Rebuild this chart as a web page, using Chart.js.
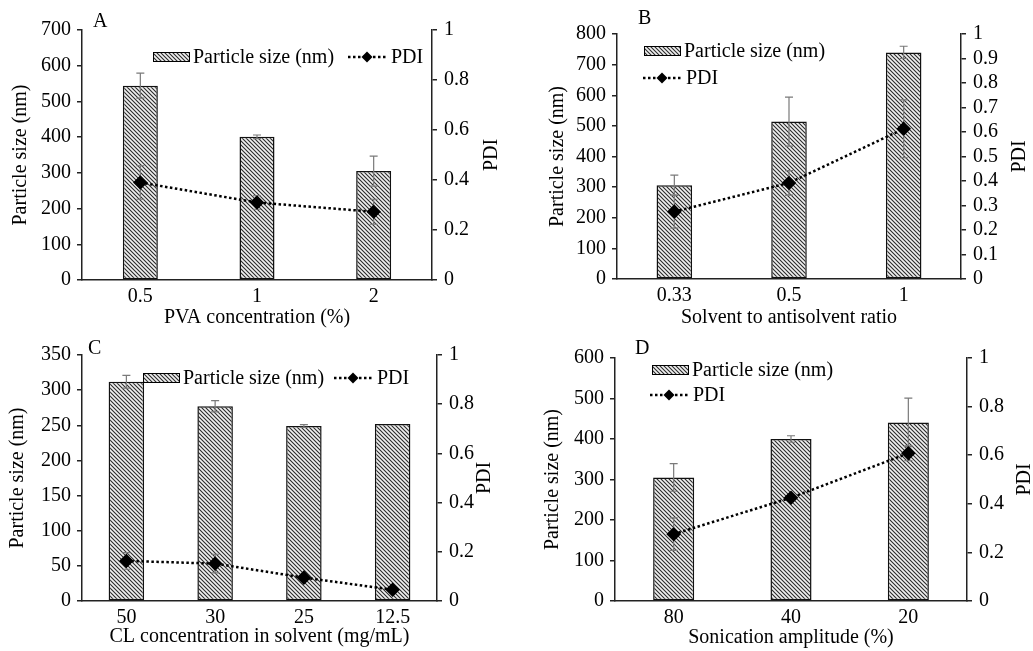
<!DOCTYPE html>
<html>
<head>
<meta charset="utf-8">
<script src="https://cdn.jsdelivr.net/npm/chart.js"></script>
<style>
  body { margin: 0; background: #fff; width: 1033px; height: 651px; position: relative; overflow: hidden; }
  .panel { position: absolute; }
  .letter { position: absolute; font: 20px "Liberation Serif", "Times New Roman", serif; line-height: 20px; color: #000; }
</style>
</head>
<body>
<div class="panel" style="left:0;top:0;width:516px;height:330px"><canvas id="chartA"></canvas></div>
<div class="panel" style="left:516px;top:0;width:517px;height:330px"><canvas id="chartB"></canvas></div>
<div class="panel" style="left:0;top:330px;width:516px;height:321px"><canvas id="chartC"></canvas></div>
<div class="panel" style="left:516px;top:330px;width:517px;height:321px"><canvas id="chartD"></canvas></div>
<div class="letter" style="left:93px;top:10px">A</div>
<div class="letter" style="left:638px;top:7px">B</div>
<div class="letter" style="left:88px;top:337px">C</div>
<div class="letter" style="left:635px;top:337px">D</div>
<script>
// panel A - PVA concentration
const catsA = ['0.5', '1', '2'];
const sizeA = [544, 401, 305];
const sizeErrA = [35, 5, 42];
const pdiA = [0.39, 0.31, 0.273];
const pdiErrA = [0.067, 0.027, 0.05];

// panel B - solvent to antisolvent ratio
const catsB = ['0.33', '0.5', '1'];
const sizeB = [306, 514, 740];
const sizeErrB = [33, 80, 20];
const pdiB = [0.275, 0.392, 0.613];
const pdiErrB = [0.067, 0.05, 0.118];

// panel C - CL concentration
const catsC = ['50', '30', '25', '12.5'];
const sizeC = [312, 277, 249, 252];
const sizeErrC = [9, 8, 2, 0];
const pdiC = [0.163, 0.152, 0.095, 0.046];
const pdiErrC = [0.034, 0.038, 0.01, 0];

// panel D - sonication amplitude
const catsD = ['80', '40', '20'];
const sizeD = [305, 400, 441];
const sizeErrD = [34, 8, 60];
const pdiD = [0.275, 0.425, 0.608];
const pdiErrD = [0.067, 0.01, 0.03];

const serif = '"Liberation Serif", "Times New Roman", serif';
Chart.defaults.font.family = serif;
Chart.defaults.font.size = 20;
Chart.defaults.color = '#000';

function hatch() {
  const c = document.createElement('canvas');
  c.width = 4; c.height = 4;
  const g = c.getContext('2d');
  g.fillStyle = '#f0f0f0';
  g.fillRect(0, 0, 4, 4);
  g.strokeStyle = '#2a2a2a';
  g.lineWidth = 1.1;
  g.beginPath();
  g.moveTo(0, 0); g.lineTo(4, 4);
  g.moveTo(-1, 3); g.lineTo(1, 5);
  g.moveTo(3, -1); g.lineTo(5, 1);
  g.stroke();
  return g.createPattern(c, 'repeat');
}

function drawErr(chart, i) {
  const ds = chart.data.datasets[i];
  if (!ds.errors) return;
  const meta = chart.getDatasetMeta(i);
  const scale = chart.scales[meta.yAxisID];
  const ctx = chart.ctx;
  ctx.save();
  ctx.strokeStyle = '#7a7a7a';
  ctx.lineWidth = 1.2;
  meta.data.forEach((el, j) => {
    const e = ds.errors[j];
    if (!e) return;
    const top = scale.getPixelForValue(ds.data[j] + e);
    const bot = scale.getPixelForValue(ds.data[j] - e);
    ctx.beginPath();
    ctx.moveTo(el.x, top); ctx.lineTo(el.x, bot);
    ctx.moveTo(el.x - 4, top); ctx.lineTo(el.x + 4, top);
    ctx.moveTo(el.x - 4, bot); ctx.lineTo(el.x + 4, bot);
    ctx.stroke();
  });
  ctx.restore();
}

const errorBars = {
  id: 'errorBars',
  beforeDatasetDraw(chart, args) { if (args.meta.type === 'line') drawErr(chart, args.index); },
  afterDatasetDraw(chart, args) { if (args.meta.type === 'bar') drawErr(chart, args.index); }
};

function diamond(ctx, x, y, r) {
  ctx.beginPath();
  ctx.moveTo(x, y - r); ctx.lineTo(x + r, y); ctx.lineTo(x, y + r); ctx.lineTo(x - r, y);
  ctx.closePath();
  ctx.fill();
}

// legend inside the plot and the right axis title (reads bottom to top)
const panelText = {
  id: 'panelText',
  afterDraw(chart, args, opts) {
    const ctx = chart.ctx;
    const [bar, line] = chart.data.datasets;
    const lg = opts.legend;
    ctx.save();
    ctx.font = '20px ' + serif;
    ctx.textBaseline = 'middle';

    ctx.fillStyle = bar.backgroundColor;
    ctx.fillRect(lg.barX, lg.barY - 5, 37, 10);
    ctx.strokeStyle = '#000';
    ctx.lineWidth = 1;
    ctx.strokeRect(lg.barX + 0.5, lg.barY - 4.5, 36, 9);
    ctx.fillStyle = '#000';
    ctx.fillText(bar.label, lg.barX + 40, lg.barY + 1);

    ctx.setLineDash([2.5, 2.5]);
    ctx.lineWidth = 2.5;
    ctx.beginPath();
    ctx.moveTo(lg.lineX, lg.lineY);
    ctx.lineTo(lg.lineX + 38, lg.lineY);
    ctx.stroke();
    ctx.setLineDash([]);
    diamond(ctx, lg.lineX + 19, lg.lineY, 5.5);
    ctx.fillText(line.label, lg.lineX + 43, lg.lineY + 1);

    const a = chart.chartArea;
    ctx.translate(opts.rightTitleX, (a.top + a.bottom) / 2);
    ctx.rotate(-Math.PI / 2);
    ctx.textAlign = 'center';
    ctx.fillText('PDI', 0, 0);
    ctx.restore();
  }
};

function makePanel(p) {
  new Chart(document.getElementById(p.id), {
    type: 'bar',
    data: {
      labels: p.cats,
      datasets: [
        {
          type: 'bar',
          label: 'Particle size (nm)',
          data: p.size,
          errors: p.sizeErr,
          yAxisID: 'y',
          backgroundColor: hatch(),
          borderColor: '#111',
          borderWidth: 1.5,
          borderSkipped: false,
          categoryPercentage: 1,
          barPercentage: p.barPct,
          order: 1
        },
        {
          type: 'line',
          label: 'PDI',
          data: p.pdi,
          errors: p.pdiErr,
          yAxisID: 'y1',
          borderColor: '#000',
          borderWidth: 2.5,
          borderDash: [2.5, 2.5],
          pointStyle: 'rectRot',
          pointRadius: 5.5,
          pointBackgroundColor: '#000',
          pointBorderColor: '#000',
          tension: 0,
          order: 0
        }
      ]
    },
    options: {
      responsive: true,
      maintainAspectRatio: false,
      animation: false,
      layout: { padding: { top: p.box.top, left: 0, right: 0, bottom: 0 } },
      plugins: {
        legend: { display: false },
        tooltip: { enabled: false },
        panelText: { legend: p.legend, rightTitleX: p.rightTitleX }
      },
      scales: {
        x: {
          grid: { display: true, drawOnChartArea: false, drawTicks: false },
          border: { display: true, color: '#222', width: 1.5 },
          ticks: { padding: 5, color: '#000' },
          title: { display: true, text: p.xTitle, color: '#000', padding: { top: 0, bottom: p.xTitlePad } },
          afterFit(scale) { scale.height = p.box.bottom; }
        },
        y: {
          position: 'left',
          min: 0,
          max: p.yMax,
          ticks: { stepSize: p.yStep, padding: 6, color: '#000', autoSkip: false },
          grid: { drawOnChartArea: false, drawTicks: true, tickLength: 5, color: '#222', lineWidth: 1.5 },
          border: { display: true, color: '#222', width: 1.5 },
          title: { display: true, text: 'Particle size (nm)', color: '#000', padding: { top: p.yTitlePad, bottom: 0 } },
          afterFit(scale) { scale.width = p.box.left; }
        },
        y1: {
          position: 'right',
          min: 0,
          max: 1,
          ticks: {
            stepSize: p.pdiStep, padding: 7, color: '#000', autoSkip: false,
            callback: (v) => String(Number(v.toFixed(1)))
          },
          grid: { drawOnChartArea: false, drawTicks: true, tickLength: 5, color: '#222', lineWidth: 1.5 },
          border: { display: true, color: '#222', width: 1.5 },
          afterFit(scale) { scale.width = p.box.right; }
        }
      }
    },
    plugins: [errorBars, panelText]
  });
}

makePanel({
  id: 'chartA', cats: catsA, size: sizeA, sizeErr: sizeErrA, pdi: pdiA, pdiErr: pdiErrA,
  xTitle: 'PVA concentration (%)', yMax: 700, yStep: 100, pdiStep: 0.2, barPct: 0.3,
  box: { left: 82, right: 84, top: 30, bottom: 50 }, yTitlePad: 9, xTitlePad: 0, rightTitleX: 492,
  legend: { barX: 153, barY: 57, lineX: 348, lineY: 57 }
});
makePanel({
  id: 'chartB', cats: catsB, size: sizeB, sizeErr: sizeErrB, pdi: pdiB, pdiErr: pdiErrB,
  xTitle: 'Solvent to antisolvent ratio', yMax: 800, yStep: 100, pdiStep: 0.1, barPct: 0.31,
  box: { left: 101, right: 72, top: 34, bottom: 51 }, yTitlePad: 30, xTitlePad: 0, rightTitleX: 504,
  legend: { barX: 128, barY: 51, lineX: 127, lineY: 78 }
});
makePanel({
  id: 'chartC', cats: catsC, size: sizeC, sizeErr: sizeErrC, pdi: pdiC, pdiErr: pdiErrC,
  xTitle: 'CL concentration in solvent (mg/mL)', yMax: 350, yStep: 50, pdiStep: 0.2, barPct: 0.4,
  box: { left: 82, right: 79, top: 25, bottom: 50 }, yTitlePad: 6, xTitlePad: 2, rightTitleX: 485,
  legend: { barX: 143, barY: 48, lineX: 334, lineY: 48 }
});
makePanel({
  id: 'chartD', cats: catsD, size: sizeD, sizeErr: sizeErrD, pdi: pdiD, pdiErr: pdiErrD,
  xTitle: 'Sonication amplitude (%)', yMax: 600, yStep: 100, pdiStep: 0.2, barPct: 0.35,
  box: { left: 99, right: 66, top: 28, bottom: 50 }, yTitlePad: 25, xTitlePad: 1, rightTitleX: 509,
  legend: { barX: 136, barY: 40, lineX: 134, lineY: 65 }
});
</script>
</body>
</html>
